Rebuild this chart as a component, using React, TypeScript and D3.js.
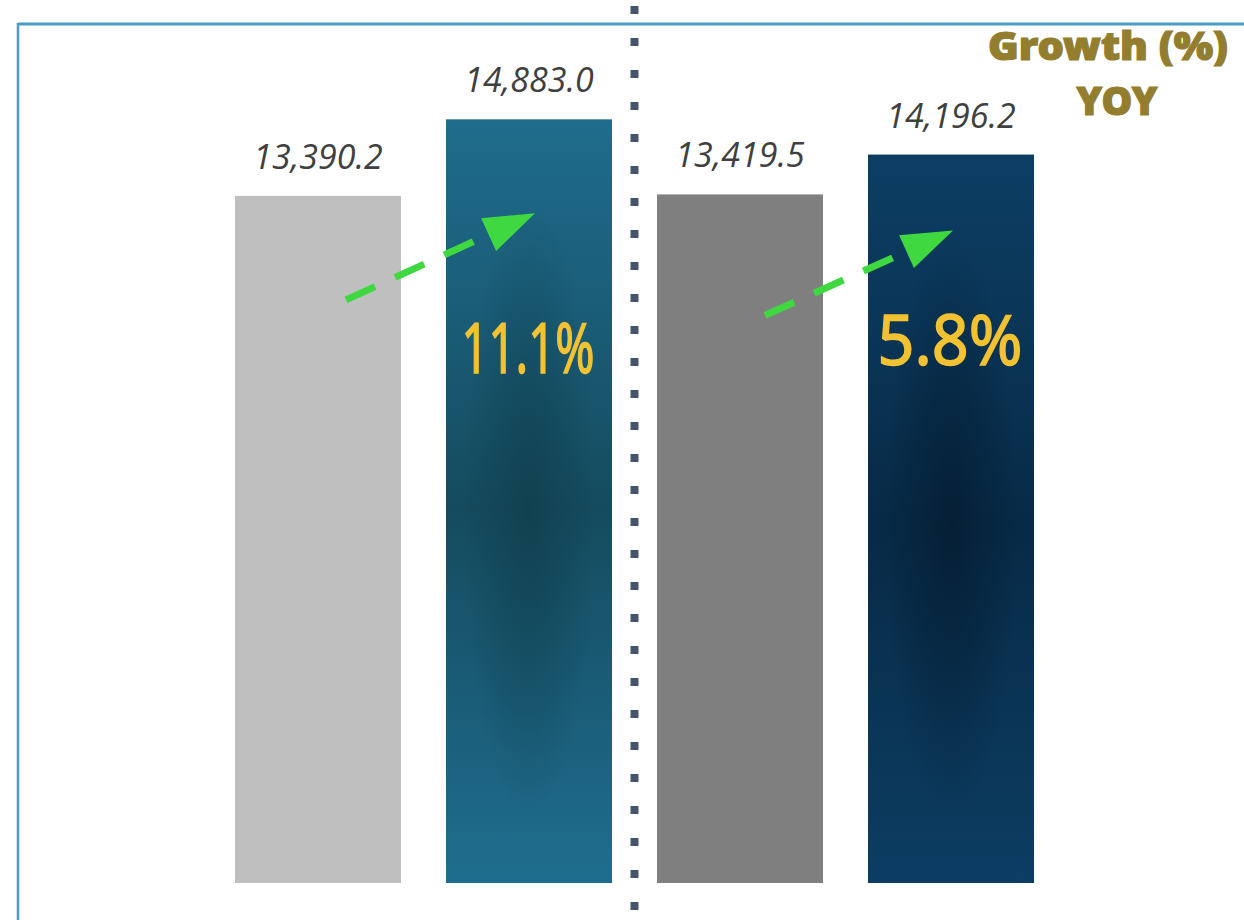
import React from "react";
import * as d3 from "d3";

// ---- data ----
const categories = ["Period A (prev)", "Period A (curr)", "Period B (prev)", "Period B (curr)"];
const values = [13390.2, 14883.0, 13419.5, 14196.2];
const valueLabels = ["13,390.2", "14,883.0", "13,419.5", "14,196.2"];
const growthLabels = ["11.1%", "5.8%"];
const titleLines = ["Growth (%)", "YOY"];

const W = 1244;
const H = 920;

export default function App() {
  const x = d3
    .scaleBand<string>()
    .domain(categories)
    .range([235, 1034])
    .paddingInner(0.2133)
    .paddingOuter(0);
  const y = d3.scaleLinear().domain([0, 16000]).range([883, 62]);
  const bw = x.bandwidth();

  const fills = ["#bfbfbf", "url(#l2)", "#7f7f7f", "url(#l4)"];
  const overlays = [null, "url(#r2)", null, "url(#r4)"];

  const divX = ((x(categories[1])! + bw) + x(categories[2])!) / 2;

  const arrows = [
    { from: 0, to: 1, x0off: -55, y0off: 104, x1off: 89, y1off: 94, label: growthLabels[0], lblOff: 254, lblW: 133 },
    { from: 2, to: 3, x0off: -58, y0off: 121, x1off: 85, y1off: 76, label: growthLabels[1], lblOff: 210, lblW: 145 },
  ];

  return (
    <svg width={W} height={H} style={{ position: "absolute", left: 0, top: 0, background: "#fff" }}>
      <defs>
        <linearGradient id="l2" x1="0" y1="0" x2="0" y2="1">
          <stop offset="0%" stopColor="#1f6c8c" />
          <stop offset="25%" stopColor="#1a5d78" />
          <stop offset="51%" stopColor="#154b5e" />
          <stop offset="75%" stopColor="#1a5c77" />
          <stop offset="100%" stopColor="#1f6e8f" />
        </linearGradient>
        <radialGradient id="r2" cx="50%" cy="51%" r="40%">
          <stop offset="0%" stopColor="#0f3d4b" stopOpacity={0.7} />
          <stop offset="100%" stopColor="#0f3d4b" stopOpacity={0} />
        </radialGradient>
        <linearGradient id="l4" x1="0" y1="0" x2="0" y2="1">
          <stop offset="0%" stopColor="#0c3e63" />
          <stop offset="25%" stopColor="#0a3557" />
          <stop offset="51%" stopColor="#072a46" />
          <stop offset="75%" stopColor="#0a3455" />
          <stop offset="100%" stopColor="#0c3d62" />
        </linearGradient>
        <radialGradient id="r4" cx="50%" cy="51%" r="40%">
          <stop offset="0%" stopColor="#041b2f" stopOpacity={0.7} />
          <stop offset="100%" stopColor="#041b2f" stopOpacity={0} />
        </radialGradient>
      </defs>

      {/* frame */}
      <line x1={18} y1={24} x2={W} y2={24} stroke="#4a9cc4" strokeWidth={3} />
      <line x1={18} y1={23} x2={18} y2={H} stroke="#4a9cc4" strokeWidth={2.5} />

      {/* divider dots */}
      <line
        x1={divX}
        x2={divX}
        y1={6}
        y2={910}
        stroke="#44546a"
        strokeWidth={8}
        strokeDasharray="8 24"
      />

      {/* bars */}
      {categories.map((c, i) => (
        <g key={c}>
          <rect
            x={x(c)}
            y={y(values[i])}
            width={bw}
            height={y(0) - y(values[i])}
            fill={fills[i]}
          />
          {overlays[i] && (
            <rect
              x={x(c)}
              y={y(values[i])}
              width={bw}
              height={y(0) - y(values[i])}
              fill={overlays[i]!}
            />
          )}
        </g>
      ))}

      {/* value labels */}
      {categories.map((c, i) => (
        <text
          key={c + "l"}
          x={x(c)! + bw / 2}
          y={y(values[i]) - 27}
          textAnchor="middle"
          fontFamily="'Open Sans', sans-serif"
          fontStyle="italic"
          fontSize={34}
          fill="#404040"
        >
          {valueLabels[i]}
        </text>
      ))}

      {/* arrows */}
      {arrows.map((a, k) => {
        const x0 = x(categories[a.from])! + bw + a.x0off;
        const y0 = y(values[a.from]) + a.y0off;
        const x1 = x(categories[a.to])! + a.x1off;
        const y1 = y(values[a.to]) + a.y1off;
        const ang = Math.atan2(y1 - y0, x1 - x0);
        const len = 51;
        const half = 18;
        const bx = x1 - len * Math.cos(ang);
        const by = y1 - len * Math.sin(ang);
        const px = -Math.sin(ang) * half;
        const py = Math.cos(ang) * half;
        const lineEnd = Math.hypot(bx - x0, by - y0) + 4;
        const lx = x0 + lineEnd * Math.cos(ang);
        const ly = y0 + lineEnd * Math.sin(ang);
        return (
          <g key={k}>
            <line
              x1={x0}
              y1={y0}
              x2={lx}
              y2={ly}
              stroke="#40d840"
              strokeWidth={7}
              strokeDasharray="32 22"
            />
            <path
              d={`M${x1},${y1}L${bx + px},${by + py}L${bx - px},${by - py}Z`}
              fill="#40d840"
            />
          </g>
        );
      })}

      {/* growth labels */}
      {arrows.map((a, k) => (
        <text
          key={"p" + k}
          x={x(categories[a.to])! + bw / 2 - 1}
          y={y(values[a.to]) + a.lblOff}
          textAnchor="middle"
          fontFamily="'Noto Sans', sans-serif"
          fontSize={70}
          fill="#f2c232"
          stroke="#f2c232"
          strokeWidth={1.5}
          textLength={a.lblW}
          lengthAdjust="spacingAndGlyphs"
        >
          {a.label}
        </text>
      ))}

      {/* title */}
      <text
        x={1108}
        y={60}
        textAnchor="middle"
        fontFamily="'Noto Sans', sans-serif"
        fontWeight={900}
        fontSize={39}
        fill="#927e2e"
        stroke="#927e2e"
        strokeWidth={1.2}
        textLength={240}
        lengthAdjust="spacingAndGlyphs"
      >
        {titleLines[0]}
      </text>
      <text
        x={1117}
        y={115}
        textAnchor="middle"
        fontFamily="'Noto Sans', sans-serif"
        fontWeight={900}
        fontSize={39}
        fill="#927e2e"
        stroke="#927e2e"
        strokeWidth={1.2}
        textLength={81}
        lengthAdjust="spacingAndGlyphs"
      >
        {titleLines[1]}
      </text>
    </svg>
  );
}
